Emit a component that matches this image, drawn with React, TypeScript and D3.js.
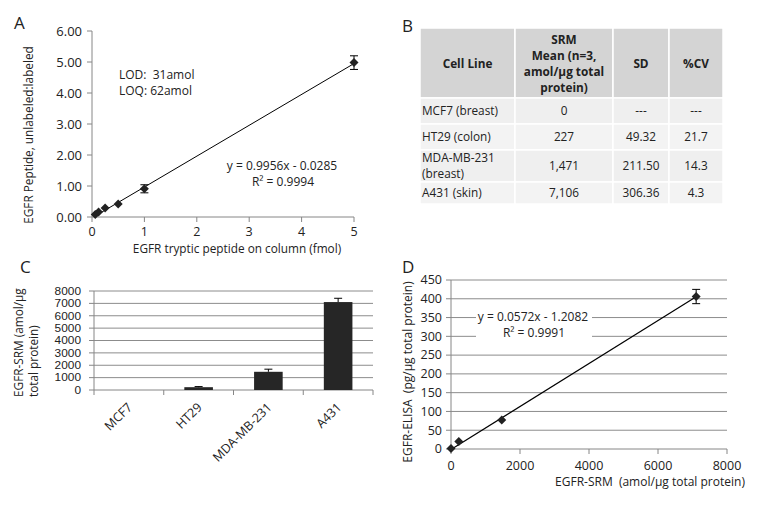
import React from 'react';
import * as d3 from 'd3';

const FONT = "'Open Sans', 'Liberation Sans', sans-serif";
const TXT = '#222';
const AXIS = '#868686';
const GRID = '#8c8c8c';

// ---------- Panel A: calibration ----------
const calX = [0.0625, 0.125, 0.25, 0.5, 1, 5];
const calY = [0.08, 0.16, 0.29, 0.42, 0.91, 4.98];
const calErr = [0.02, 0.03, 0.04, 0.04, 0.13, 0.22];
const calSlope = 0.9956;
const calIntercept = -0.0285;
const calYTicks = [0, 1, 2, 3, 4, 5, 6];
const calXTicks = [0, 1, 2, 3, 4, 5];

// ---------- Panel B: table ----------
const tableHeaders = ['Cell Line', 'SRM|Mean (n=3,|amol/µg total|protein)', 'SD', '%CV'];
const cellLines = ['MCF7 (breast)', 'HT29 (colon)', 'MDA-MB-231|(breast)', 'A431 (skin)'];
const srmMeans = ['0', '227', '1,471', '7,106'];
const srmSD = ['---', '49.32', '211.50', '306.36'];
const srmCV = ['---', '21.7', '14.3', '4.3'];

// ---------- Panel C: bars ----------
const barCategories = ['MCF7', 'HT29', 'MDA-MB-231', 'A431'];
const barValues = [0, 227, 1471, 7106];
const barErrors = [0, 49.32, 211.5, 306.36];
const barYTicks = [0, 1000, 2000, 3000, 4000, 5000, 6000, 7000, 8000];

// ---------- Panel D: correlation ----------
const corrX = [0, 227, 1471, 7106];
const corrY = [1, 20, 77, 406];
const corrErr = [0, 0, 0, 19];
const corrSlope = 0.0572;
const corrIntercept = -1.2082;
const corrYTicks = [0, 50, 100, 150, 200, 250, 300, 350, 400, 450];
const corrXTicks = [0, 2000, 4000, 6000, 8000];

const diamond = (cx: number, cy: number, r: number) =>
  `M${cx},${cy - r}L${cx + r},${cy}L${cx},${cy + r}L${cx - r},${cy}Z`;

function PanelA() {
  const x = d3.scaleLinear().domain([0, 5]).range([92, 354]);
  const y = d3.scaleLinear().domain([0, 6]).range([217, 31]);
  const fmt = d3.format('.2f');
  const xs = [d3.min(calX)!, d3.max(calX)!];
  return (
    <g>
      <text x={14} y={29} fontSize={17} fill={TXT}>A</text>
      <line x1={x(0)} x2={x(0)} y1={y(0)} y2={y(6)} stroke={AXIS} />
      <line x1={x(0)} x2={x(5)} y1={y(0)} y2={y(0)} stroke={AXIS} />
      {calYTicks.map((t) => (
        <g key={'ay' + t}>
          <line x1={x(0) - 5} x2={x(0)} y1={y(t)} y2={y(t)} stroke={AXIS} />
          <text x={x(0) - 10} y={y(t)} dy="0.35em" textAnchor="end" fontSize={13} fill={TXT}>{fmt(t)}</text>
        </g>
      ))}
      {calXTicks.map((t) => (
        <g key={'ax' + t}>
          <line x1={x(t)} x2={x(t)} y1={y(0)} y2={y(0) + 5} stroke={AXIS} />
          <text x={x(t)} y={y(0) + 15} dy="0.35em" textAnchor="middle" fontSize={12.5} fill={TXT}>{t}</text>
        </g>
      ))}
      <line x1={x(xs[0])} y1={y(calSlope * xs[0] + calIntercept)} x2={x(xs[1])} y2={y(calSlope * xs[1] + calIntercept)} stroke="#000" strokeWidth={1} />
      {calX.map((v, i) => (
        <g key={'ap' + i}>
          {calErr[i] > 0.05 && (
            <g stroke="#000" strokeWidth={1}>
              <line x1={x(v)} x2={x(v)} y1={y(calY[i] - calErr[i])} y2={y(calY[i] + calErr[i])} />
              <line x1={x(v) - 4} x2={x(v) + 4} y1={y(calY[i] - calErr[i])} y2={y(calY[i] - calErr[i])} />
              <line x1={x(v) - 4} x2={x(v) + 4} y1={y(calY[i] + calErr[i])} y2={y(calY[i] + calErr[i])} />
            </g>
          )}
          <path d={diamond(x(v), y(calY[i]), 4.5)} fill="#222" />
        </g>
      ))}
      <text x={119} y={75} dy="0.35em" fontSize={12} fill={TXT} xmlSpace="preserve">LOD:  31amol</text>
      <text x={119} y={91} dy="0.35em" fontSize={12} fill={TXT}>LOQ: 62amol</text>
      <text x={282} y={166} dy="0.35em" textAnchor="middle" fontSize={12} fill={TXT}>y = 0.9956x - 0.0285</text>
      <text x={283} y={182} dy="0.35em" textAnchor="middle" fontSize={12} fill={TXT}>R² = 0.9994</text>
      <text x={237} y={249} dy="0.35em" textAnchor="middle" fontSize={11.8} fill={TXT}>EGFR tryptic peptide on column (fmol)</text>
      <text transform={`translate(29,135) rotate(-90)`} dy="0.35em" textAnchor="middle" fontSize={11.8} fill={TXT}>EGFR Peptide, unlabeled:labeled</text>
    </g>
  );
}

function PanelB() {
  const colX = [420, 515, 613, 669, 723];
  const rowY = [28, 98, 124, 150, 182, 204];
  const rows = cellLines.map((c, i) => [c, srmMeans[i], srmSD[i], srmCV[i]]);
  const renderLines = (s: string, cx: number, cy: number, anchor: string, bold = false, key = '', lh = 16) => {
    const parts = s.split('|');
    const h = (parts.length - 1) * lh;
    return parts.map((p, k) => (
      <text key={key + k} x={cx} y={cy - h / 2 + k * lh} dy="0.35em" textAnchor={anchor}
        fontSize={11.8} fontWeight={bold ? 'bold' : 'normal'} fill={TXT}>{p}</text>
    ));
  };
  return (
    <g>
      <text x={402} y={32} fontSize={17} fill={TXT}>B</text>
      {tableHeaders.map((h, j) => (
        <g key={'h' + j}>
          <rect x={colX[j]} y={rowY[0]} width={colX[j + 1] - colX[j]} height={rowY[1] - rowY[0]} fill="#d4d4d4" stroke="#fff" strokeWidth={1.5} />
          {renderLines(h, (colX[j] + colX[j + 1]) / 2, (rowY[0] + rowY[1]) / 2 + 1, 'middle', true, 'ht' + j)}
        </g>
      ))}
      {rows.map((r, i) => (
        <g key={'r' + i}>
          {r.map((c, j) => (
            <g key={'c' + j}>
              <rect x={colX[j]} y={rowY[i + 1]} width={colX[j + 1] - colX[j]} height={rowY[i + 2] - rowY[i + 1]} fill={i % 2 === 0 ? '#efefef' : '#f3f3f3'} stroke="#fff" strokeWidth={1.5} />
              {j === 0
                ? renderLines(c, colX[j] + 2, (rowY[i + 1] + rowY[i + 2]) / 2, 'start', false, 'bt' + i + j, 16)
                : renderLines(c, (colX[j] + colX[j + 1]) / 2, (rowY[i + 1] + rowY[i + 2]) / 2, 'middle', false, 'bt' + i + j)}
            </g>
          ))}
        </g>
      ))}
    </g>
  );
}

function PanelC() {
  const x = d3.scaleBand().domain(barCategories).range([94, 373]).paddingInner(0.59).paddingOuter(0.295);
  const y = d3.scaleLinear().domain([0, 8000]).range([390, 291]);
  const step = x.step();
  const bounds = d3.range(barCategories.length + 1).map((i) => 94 + i * step);
  return (
    <g>
      <text x={20} y={273} fontSize={17} fill={TXT}>C</text>
      {barYTicks.map((t) => (
        <g key={'cy' + t}>
          {t > 0 && <line x1={x.range()[0]} x2={x.range()[1]} y1={y(t)} y2={y(t)} stroke={GRID} />}
          <line x1={x.range()[0] - 5} x2={x.range()[0]} y1={y(t)} y2={y(t)} stroke={AXIS} />
          <text x={81} y={y(t)} dy="0.35em" textAnchor="end" fontSize={10.8} fontFamily="'Liberation Sans', sans-serif" fill={TXT}
            textLength={String(t).length * 6.6} lengthAdjust="spacingAndGlyphs">{t}</text>
        </g>
      ))}
      <line x1={x.range()[0]} x2={x.range()[0]} y1={y(0)} y2={y(8000)} stroke={AXIS} />
      <line x1={x.range()[0]} x2={x.range()[1]} y1={y(0)} y2={y(0)} stroke={AXIS} />
      {bounds.map((b, i) => (
        <line key={'cb' + i} x1={b} x2={b} y1={y(0)} y2={y(0) + 5} stroke={AXIS} />
      ))}
      {barCategories.map((c, i) => (
        <g key={'bar' + i}>
          <rect x={x(c)} y={y(barValues[i])} width={x.bandwidth()} height={y(0) - y(barValues[i])} fill="#262626" />
          {barErrors[i] > 0 && (
            <g stroke="#000" strokeWidth={1}>
              <line x1={x(c)! + x.bandwidth() / 2} x2={x(c)! + x.bandwidth() / 2} y1={y(barValues[i])} y2={y(barValues[i] + barErrors[i])} />
              <line x1={x(c)! + x.bandwidth() / 2 - 4} x2={x(c)! + x.bandwidth() / 2 + 4} y1={y(barValues[i] + barErrors[i])} y2={y(barValues[i] + barErrors[i])} />
            </g>
          )}
          <text transform={`translate(${x(c)! + x.bandwidth() / 2 + 1},${y(0) + 15}) rotate(-45)`} textAnchor="end" dy="0.35em" fontSize={12.5} fill={TXT}>{c}</text>
        </g>
      ))}
      <text transform={`translate(19,397) rotate(-90)`} dy="0.35em" textAnchor="start" fontSize={11.8} fill={TXT}>EGFR-SRM (amol/µg</text>
      <text transform={`translate(34,397) rotate(-90)`} dy="0.35em" textAnchor="start" fontSize={11.8} fill={TXT}>total protein)</text>
    </g>
  );
}

function PanelD() {
  const x = d3.scaleLinear().domain([0, 8000]).range([451, 727]);
  const y = d3.scaleLinear().domain([0, 450]).range([449, 280]);
  const xs = [d3.min(corrX)!, d3.max(corrX)!];
  return (
    <g>
      <text x={402} y={273} fontSize={17} fill={TXT}>D</text>
      {corrYTicks.map((t) => (
        <g key={'dy' + t}>
          {t > 0 && <line x1={x(0)} x2={x(8000)} y1={y(t)} y2={y(t)} stroke={GRID} />}
          <line x1={x(0) - 5} x2={x(0)} y1={y(t)} y2={y(t)} stroke={AXIS} />
          <text x={442} y={y(t)} dy="0.35em" textAnchor="end" fontSize={12.5} fill={TXT}>{t}</text>
        </g>
      ))}
      <line x1={x(0)} x2={x(0)} y1={y(0)} y2={y(450)} stroke={AXIS} />
      <line x1={x(0)} x2={x(8000)} y1={y(0)} y2={y(0)} stroke={AXIS} />
      {corrXTicks.map((t) => (
        <g key={'dx' + t}>
          <line x1={x(t)} x2={x(t)} y1={y(0)} y2={y(0) + 5} stroke={AXIS} />
          <text x={x(t)} y={466} dy="0.35em" textAnchor="middle" fontSize={12.5} fill={TXT}>{t}</text>
        </g>
      ))}
      <rect x={476} y={308} width={116} height={34} fill="#fff" />
      <text x={533} y={317} dy="0.35em" textAnchor="middle" fontSize={12} fill={TXT}>y = 0.0572x - 1.2082</text>
      <text x={534} y={333} dy="0.35em" textAnchor="middle" fontSize={12} fill={TXT}>R² = 0.9991</text>
      <line x1={x(xs[0])} y1={y(corrSlope * xs[0] + corrIntercept)} x2={x(xs[1])} y2={y(corrSlope * xs[1] + corrIntercept)} stroke="#000" strokeWidth={1.2} />
      {corrX.map((v, i) => (
        <g key={'dp' + i}>
          {corrErr[i] > 0 && (
            <g stroke="#000" strokeWidth={1}>
              <line x1={x(v)} x2={x(v)} y1={y(corrY[i] - corrErr[i])} y2={y(corrY[i] + corrErr[i])} />
              <line x1={x(v) - 4} x2={x(v) + 4} y1={y(corrY[i] - corrErr[i])} y2={y(corrY[i] - corrErr[i])} />
              <line x1={x(v) - 4} x2={x(v) + 4} y1={y(corrY[i] + corrErr[i])} y2={y(corrY[i] + corrErr[i])} />
            </g>
          )}
          <path d={diamond(x(v), y(corrY[i]), 4.5)} fill="#222" />
        </g>
      ))}
      <text x={650} y={482} dy="0.35em" textAnchor="middle" fontSize={12} fill={TXT} xmlSpace="preserve">EGFR-SRM  (amol/µg total protein)</text>
      <text transform={`translate(408,372) rotate(-90)`} dy="0.35em" textAnchor="middle" fontSize={12} fill={TXT} xmlSpace="preserve">EGFR-ELISA  (pg/µg total protein)</text>
    </g>
  );
}

export default function App() {
  return (
    <svg width={757} height={507} style={{ position: 'absolute', left: 0, top: 0, fontFamily: FONT, background: '#fff' }}>
      <rect width={757} height={507} fill="#fff" />
      <PanelA />
      <PanelB />
      <PanelC />
      <PanelD />
    </svg>
  );
}
